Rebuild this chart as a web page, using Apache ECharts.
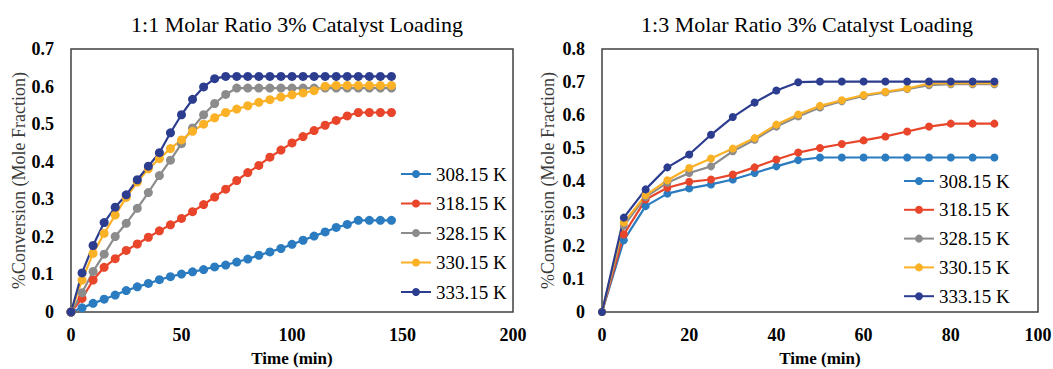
<!DOCTYPE html>
<html>
<head>
<meta charset="utf-8">
<script src="https://cdn.jsdelivr.net/npm/echarts@6/dist/echarts.min.js"></script>
<style>
  html, body { margin: 0; padding: 0; background: #fff; }
  #chart { width: 1053px; height: 369px; }
</style>
</head>
<body>
<div id="chart"></div>
<script>
// series names (shared by both panels)
const seriesNames = ["308.15 K", "318.15 K", "328.15 K", "330.15 K", "333.15 K"]
const seriesColors = ["#2a7bbf", "#e8452a", "#8c8c8c", "#fbb126", "#2c3d8f"]

// left panel: 1:1 molar ratio, time in min
const timeLeft = [0, 5, 10, 15, 20, 25, 30, 35, 40, 45, 50, 55, 60, 65, 70,
  75, 80, 85, 90, 95, 100, 105, 110, 115, 120, 125, 130, 135, 140, 145]
const left308 = [0, 0.011, 0.023, 0.034, 0.045, 0.057, 0.067, 0.076, 0.086, 0.094,
  0.101, 0.107, 0.113, 0.120, 0.125, 0.133, 0.141, 0.151, 0.160, 0.169,
  0.180, 0.191, 0.202, 0.213, 0.225, 0.233, 0.244, 0.244, 0.244, 0.244]
const left318 = [0, 0.036, 0.085, 0.119, 0.142, 0.164, 0.181, 0.199, 0.216, 0.232,
  0.249, 0.267, 0.286, 0.306, 0.327, 0.350, 0.371, 0.390, 0.412, 0.431,
  0.450, 0.467, 0.483, 0.497, 0.510, 0.522, 0.531, 0.531, 0.531, 0.531]
const left328 = [0, 0.051, 0.108, 0.154, 0.201, 0.236, 0.276, 0.318, 0.363, 0.404,
  0.448, 0.490, 0.525, 0.555, 0.579, 0.596, 0.596, 0.596, 0.596, 0.596,
  0.596, 0.596, 0.596, 0.596, 0.596, 0.596, 0.596, 0.596, 0.596, 0.596]
const left330 = [0, 0.085, 0.156, 0.209, 0.258, 0.305, 0.346, 0.381, 0.408, 0.435,
  0.458, 0.481, 0.500, 0.517, 0.531, 0.540, 0.549, 0.558, 0.565, 0.572,
  0.578, 0.583, 0.589, 0.601, 0.603, 0.603, 0.603, 0.603, 0.603, 0.603]
const left333 = [0, 0.104, 0.177, 0.238, 0.279, 0.312, 0.352, 0.388, 0.424, 0.477,
  0.525, 0.566, 0.599, 0.621, 0.627, 0.627, 0.627, 0.627, 0.627, 0.627,
  0.627, 0.627, 0.627, 0.627, 0.627, 0.627, 0.627, 0.627, 0.627, 0.627]

// right panel: 1:3 molar ratio
const timeRight = [0, 5, 10, 15, 20, 25, 30, 35, 40, 45, 50, 55, 60, 65, 70, 75, 80, 85, 90]
const right308 = [0, 0.218, 0.322, 0.360, 0.376, 0.388, 0.403, 0.423, 0.443, 0.462,
  0.470, 0.470, 0.470, 0.470, 0.470, 0.470, 0.470, 0.470, 0.470]
const right318 = [0, 0.236, 0.342, 0.378, 0.396, 0.403, 0.418, 0.440, 0.464, 0.485,
  0.499, 0.511, 0.522, 0.534, 0.549, 0.564, 0.573, 0.573, 0.573]
const right328 = [0, 0.262, 0.350, 0.393, 0.423, 0.443, 0.489, 0.524, 0.564, 0.595,
  0.622, 0.641, 0.657, 0.668, 0.678, 0.690, 0.693, 0.693, 0.693]
const right330 = [0, 0.272, 0.355, 0.401, 0.438, 0.467, 0.497, 0.529, 0.570, 0.601,
  0.627, 0.644, 0.660, 0.670, 0.680, 0.695, 0.696, 0.696, 0.696]
const right333 = [0, 0.287, 0.373, 0.440, 0.479, 0.539, 0.593, 0.637, 0.674, 0.699,
  0.701, 0.701, 0.701, 0.701, 0.701, 0.701, 0.701, 0.701, 0.701]

const leftTitle = "1:1 Molar Ratio 3% Catalyst Loading"
const rightTitle = "1:3 Molar Ratio 3% Catalyst Loading"
const xName = "Time (min)"
const yName = "%Conversion (Mole Fraction)"

const FONT = "Liberation Serif, Times New Roman, serif"

const leftData = [left308, left318, left328, left330, left333]
const rightData = [right308, right318, right328, right330, right333]

function pairs(xs, ys) {
  return xs.map((x, i) => [x, ys[i]])
}

function makeSeries(data, xs, idx, size) {
  return data.map((ys, i) => ({
    name: seriesNames[i],
    type: "line",
    xAxisIndex: idx,
    yAxisIndex: idx,
    data: pairs(xs, ys),
    symbol: "circle",
    symbolSize: size,
    color: seriesColors[i],
    lineStyle: { width: 2.2, color: seriesColors[i] },
    itemStyle: { color: seriesColors[i] },
    emphasis: { disabled: true },
    animation: false,
  }))
}

const chart = echarts.init(document.getElementById("chart"), null, { renderer: "svg" })

const tickLabel = { color: "#000", fontFamily: FONT, fontSize: 18, fontWeight: "bold" }

function xAxis(idx, max, interval) {
  return {
    type: "value", gridIndex: idx, min: 0, max: max, interval: interval,
    name: xName, nameLocation: "middle", nameGap: 38,
    nameTextStyle: { color: "#000", fontFamily: FONT, fontSize: 17, fontWeight: "bold" },
    axisLine: { show: false }, axisTick: { show: false }, splitLine: { show: false },
    axisLabel: Object.assign({ margin: 14 }, tickLabel),
  }
}

function yAxis(idx, max, gap) {
  return {
    type: "value", gridIndex: idx, min: 0, max: max, interval: 0.1,
    name: yName, nameLocation: "middle", nameGap: gap,
    nameTextStyle: { color: "#3a3a3a", fontFamily: FONT, fontSize: 18 },
    axisLine: { show: false }, axisTick: { show: false }, splitLine: { show: false },
    axisLabel: Object.assign({ margin: 17 }, tickLabel),
  }
}

function legend(left, top, gap) {
  return {
    orient: "vertical", left: left, top: top, padding: 0,
    itemWidth: 30, itemHeight: 10, itemGap: gap,
    data: seriesNames,
    textStyle: { color: "#000", fontFamily: FONT, fontSize: 19, lineHeight: 20 },
    selectedMode: false,
  }
}

chart.setOption({
  backgroundColor: "#fff",
  animation: false,
  title: [
    { text: leftTitle, left: 292, top: 8, textAlign: "center",
      textStyle: { color: "#000", fontFamily: FONT, fontSize: 22, fontWeight: "normal" } },
    { text: rightTitle, left: 802, top: 8, textAlign: "center",
      textStyle: { color: "#000", fontFamily: FONT, fontSize: 22, fontWeight: "normal" } },
  ],
  legend: [legend(400, 164, 9.5), legend(903, 171, 8.8)],
  grid: [
    { left: 71, top: 49, width: 442, height: 263, outerBoundsMode: "none",
      show: true, borderColor: "#404040", borderWidth: 1.5 },
    { left: 602, top: 49, width: 436, height: 263, outerBoundsMode: "none",
      show: true, borderColor: "#404040", borderWidth: 1.5 },
  ],
  xAxis: [xAxis(0, 200, 50), xAxis(1, 100, 20)],
  yAxis: [yAxis(0, 0.7, 42), yAxis(1, 0.8, 45)],
  series: makeSeries(leftData, timeLeft, 0, 9).concat(makeSeries(rightData, timeRight, 1, 8)),
})
</script>
</body>
</html>
